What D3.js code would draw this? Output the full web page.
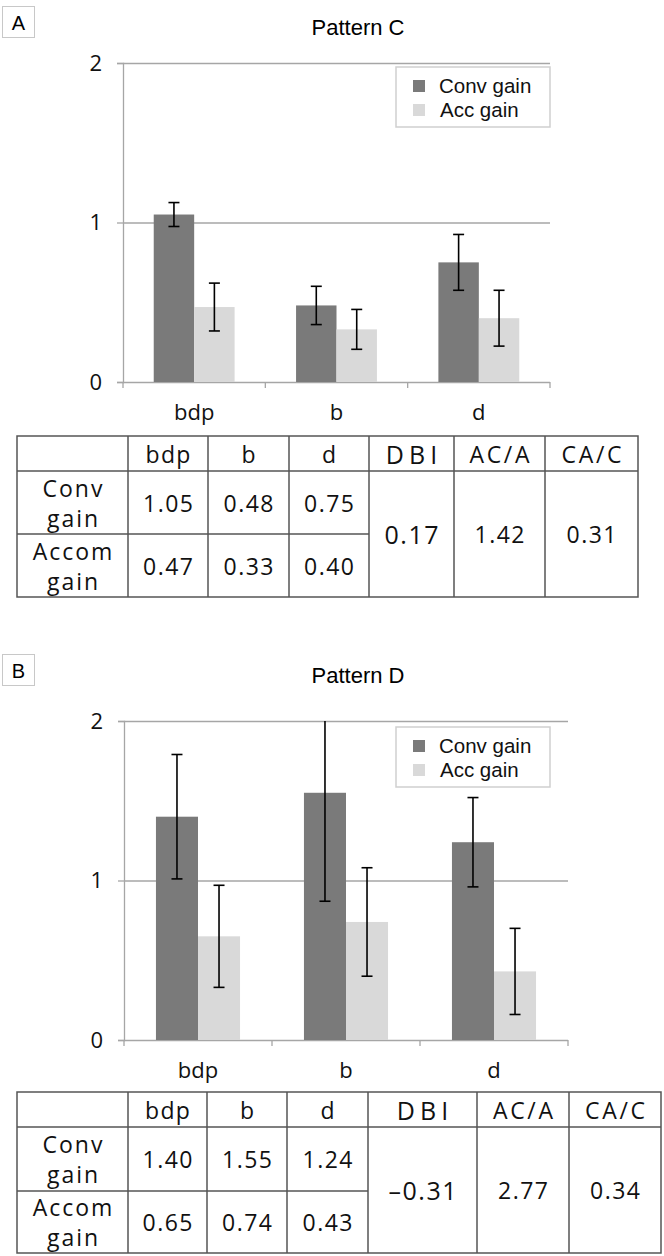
<!DOCTYPE html>
<html lang="en">
<head>
<meta charset="UTF-8">
<title>Pattern C / Pattern D gains</title>
<script src="https://d3js.org/d3.v7.min.js"></script>
<style>
  body { margin: 0; background: #fff; }
</style>
</head>
<body>
<div id="chart"></div>
<script>
const width = 664, height = 1256;

const categories = ["bdp", "b", "d"];
const seriesNames = ["Conv gain", "Acc gain"];
const yTicks = [0, 1, 2];

// Pattern C (panel A)
const convC = [1.05, 0.48, 0.75];
const accC = [0.47, 0.33, 0.40];
const convErrC = [0.075, 0.12, 0.175];
const accErrC = [0.15, 0.125, 0.175];
const statsC = [0.17, 1.42, 0.31];

// Pattern D (panel B)
const convD = [1.40, 1.55, 1.24];
const accD = [0.65, 0.74, 0.43];
const convErrD = [0.39, 0.68, 0.28];
const accErrD = [0.32, 0.34, 0.27];
const statsD = [-0.31, 2.77, 0.34];

// table text
const tableHeaders = ["bdp", "b", "d", "DBI", "AC/A", "CA/C"];
const rowLabels = [["Conv", "gain"], ["Accom", "gain"]];

const colors = ["#7a7a7a", "#d9d9d9"];
const tableFont = "'Open Sans', 'DejaVu Sans', sans-serif";
const chartFont = "'Liberation Sans', Arial, sans-serif";

const svg = d3.select("#chart")
  .append("svg")
  .attr("width", width)
  .attr("height", height)
  .style("background", "#fff");

const fmtStat = v => (v < 0 ? "\u2013" : "") + d3.format(".2f")(Math.abs(v));

function drawPanel(p) {
  const g = svg.append("g");

  // panel letter box
  g.append("rect")
    .attr("x", 2.5).attr("y", p.top - 28.5)
    .attr("width", 32).attr("height", 31)
    .attr("fill", "#fff").attr("stroke", "#c8c8c8").attr("stroke-width", 1);
  g.append("text")
    .attr("x", 18.5).attr("y", p.top - 5)
    .attr("text-anchor", "middle")
    .attr("font-family", chartFont).attr("font-size", 20)
    .text(p.letter);

  g.append("text")
    .attr("x", 358).attr("y", p.top)
    .attr("text-anchor", "middle")
    .attr("font-family", chartFont).attr("font-size", 22)
    .text(p.title);

  const x = d3.scaleBand().domain(categories).range([p.x0, p.x1]).padding(0);
  const xs = d3.scaleBand().domain(seriesNames).range([0, x.bandwidth()])
    .paddingInner(0).paddingOuter(0.76);
  const y = d3.scaleLinear().domain([0, 2]).range([p.yBot, p.yTop]);

  // gridlines
  g.append("g")
    .attr("transform", `translate(${p.x0},0)`)
    .call(d3.axisLeft(y).tickValues(yTicks).tickSize(-(p.x1 - p.x0)).tickFormat(""))
    .call(a => a.select(".domain").remove())
    .selectAll("line").attr("stroke", "#a6a6a6").attr("stroke-width", 1.3);

  // y axis
  const yAxis = g.append("g")
    .attr("transform", `translate(${p.x0},0)`)
    .call(d3.axisLeft(y).tickValues(yTicks).tickSize(6).tickPadding(15).tickFormat(d3.format("d")));
  yAxis.select(".domain").attr("stroke", "#a6a6a6").attr("stroke-width", 1.3);
  yAxis.selectAll("line").attr("stroke", "#a6a6a6").attr("stroke-width", 1.3);
  yAxis.selectAll("text")
    .attr("font-family", tableFont).attr("font-size", 22).attr("fill", "#111");

  // category boundary ticks on the x axis
  const bounds = categories.map(c => x(c)).concat([x.range()[1]]);
  g.append("g").selectAll("line").data(bounds).join("line")
    .attr("x1", d => d).attr("x2", d => d)
    .attr("y1", p.yBot).attr("y2", p.yBot + 6)
    .attr("stroke", "#a6a6a6").attr("stroke-width", 1.3);

  // bars
  const series = [
    { name: seriesNames[0], values: p.conv, errs: p.convErr },
    { name: seriesNames[1], values: p.acc, errs: p.accErr }
  ];
  series.forEach((s, si) => {
    const rows = categories.map((c, i) => ({ c, v: s.values[i], e: s.errs[i] }));
    g.append("g").selectAll("rect").data(rows).join("rect")
      .attr("x", d => x(d.c) + xs(s.name))
      .attr("y", d => y(d.v))
      .attr("width", xs.bandwidth())
      .attr("height", d => y(0) - y(d.v))
      .attr("fill", colors[si]);

    // error bars, clipped at the top of the plot
    const eg = g.append("g").selectAll("g").data(rows).join("g")
      .attr("transform", d => `translate(${x(d.c) + xs(s.name) + xs.bandwidth() / 2},0)`);
    eg.append("line")
      .attr("y1", d => y(Math.min(d.v + d.e, 2)))
      .attr("y2", d => y(d.v - d.e))
      .attr("stroke", "#000").attr("stroke-width", 1.6);
    eg.filter(d => d.v + d.e <= 2).append("line")
      .attr("x1", -5.5).attr("x2", 5.5)
      .attr("y1", d => y(d.v + d.e)).attr("y2", d => y(d.v + d.e))
      .attr("stroke", "#000").attr("stroke-width", 1.6);
    eg.append("line")
      .attr("x1", -5.5).attr("x2", 5.5)
      .attr("y1", d => y(d.v - d.e)).attr("y2", d => y(d.v - d.e))
      .attr("stroke", "#000").attr("stroke-width", 1.6);
  });

  // category labels
  g.append("g").selectAll("text").data(categories).join("text")
    .attr("x", d => x(d) + x.bandwidth() / 2)
    .attr("y", p.yBot + 38)
    .attr("text-anchor", "middle")
    .attr("font-family", tableFont).attr("font-size", 22).attr("fill", "#111")
    .text(d => d);

  // legend
  const lg = g.append("g").attr("transform", `translate(396,${p.legendY})`);
  lg.append("rect")
    .attr("width", 154).attr("height", 60)
    .attr("fill", "#fff").attr("stroke", "#cfcfcf").attr("stroke-width", 1.5);
  seriesNames.forEach((n, i) => {
    lg.append("rect")
      .attr("x", 17).attr("y", 13 + i * 24)
      .attr("width", 12).attr("height", 12)
      .attr("fill", colors[i]);
    lg.append("text")
      .attr("x", 43 + i).attr("y", 26 + i * 24)
      .attr("font-family", chartFont).attr("font-size", 20.5).attr("fill", "#111")
      .text(n);
  });

  drawTable(p);
}

function drawTable(p) {
  const t = svg.append("g");
  const cx = p.cols, ry = p.rows;
  const line = (x1, y1, x2, y2) => t.append("line")
    .attr("x1", x1).attr("y1", y1).attr("x2", x2).attr("y2", y2)
    .attr("stroke", "#555").attr("stroke-width", 1.5);

  t.append("rect")
    .attr("x", cx[0]).attr("y", ry[0])
    .attr("width", cx[cx.length - 1] - cx[0]).attr("height", ry[3] - ry[0])
    .attr("fill", "none").attr("stroke", "#555").attr("stroke-width", 1.5);
  cx.slice(1, -1).forEach(c => line(c, ry[0], c, ry[3]));
  line(cx[0], ry[1], cx[cx.length - 1], ry[1]);
  line(cx[0], ry[2], cx[4], ry[2]);

  const cell = (x, y, txt, size, sp) => t.append("text")
    .attr("x", x + sp / 2).attr("y", y)
    .attr("text-anchor", "middle").attr("dominant-baseline", "central")
    .attr("font-family", tableFont).attr("font-size", size)
    .attr("letter-spacing", sp).attr("fill", "#111")
    .text(txt);
  const mid = i => (cx[i] + cx[i + 1]) / 2;

  tableHeaders.forEach((h, i) => {
    const big = h === "DBI";
    cell(mid(i + 1), (ry[0] + ry[1]) / 2, h, big ? 25 : 23, i < 3 ? 1.3 : (big ? 5 : 2.7));
  });
  rowLabels.forEach((lab, r) => {
    const cy = (ry[r + 1] + ry[r + 2]) / 2;
    cell(mid(0), cy - 15, lab[0], 23, 2);
    cell(mid(0), cy + 15, lab[1], 23, 2);
  });
  [p.conv, p.acc].forEach((vals, r) => {
    const cy = (ry[r + 1] + ry[r + 2]) / 2;
    vals.forEach((v, i) => cell(mid(i + 1), cy, d3.format(".2f")(v), 23, 1.5));
  });
  p.stats.forEach((v, i) => {
    cell(mid(i + 4), (ry[1] + ry[3]) / 2, fmtStat(v), i === 0 ? 25 : 23, 1.5);
  });
}

drawPanel({
  letter: "A", title: "Pattern C", top: 35,
  x0: 123, x1: 550, yTop: 63, yBot: 382, legendY: 67,
  conv: convC, acc: accC, convErr: convErrC, accErr: accErrC, stats: statsC,
  cols: [17, 128, 208, 289, 369, 454, 545, 638],
  rows: [436, 471, 534, 597]
});

drawPanel({
  letter: "B", title: "Pattern D", top: 683,
  x0: 124, x1: 568, yTop: 721, yBot: 1040, legendY: 727,
  conv: convD, acc: accD, convErr: convErrD, accErr: accErrD, stats: statsD,
  cols: [17, 128, 207, 287, 368, 477, 569, 661],
  rows: [1092, 1127, 1191, 1253]
});
</script>
</body>
</html>
